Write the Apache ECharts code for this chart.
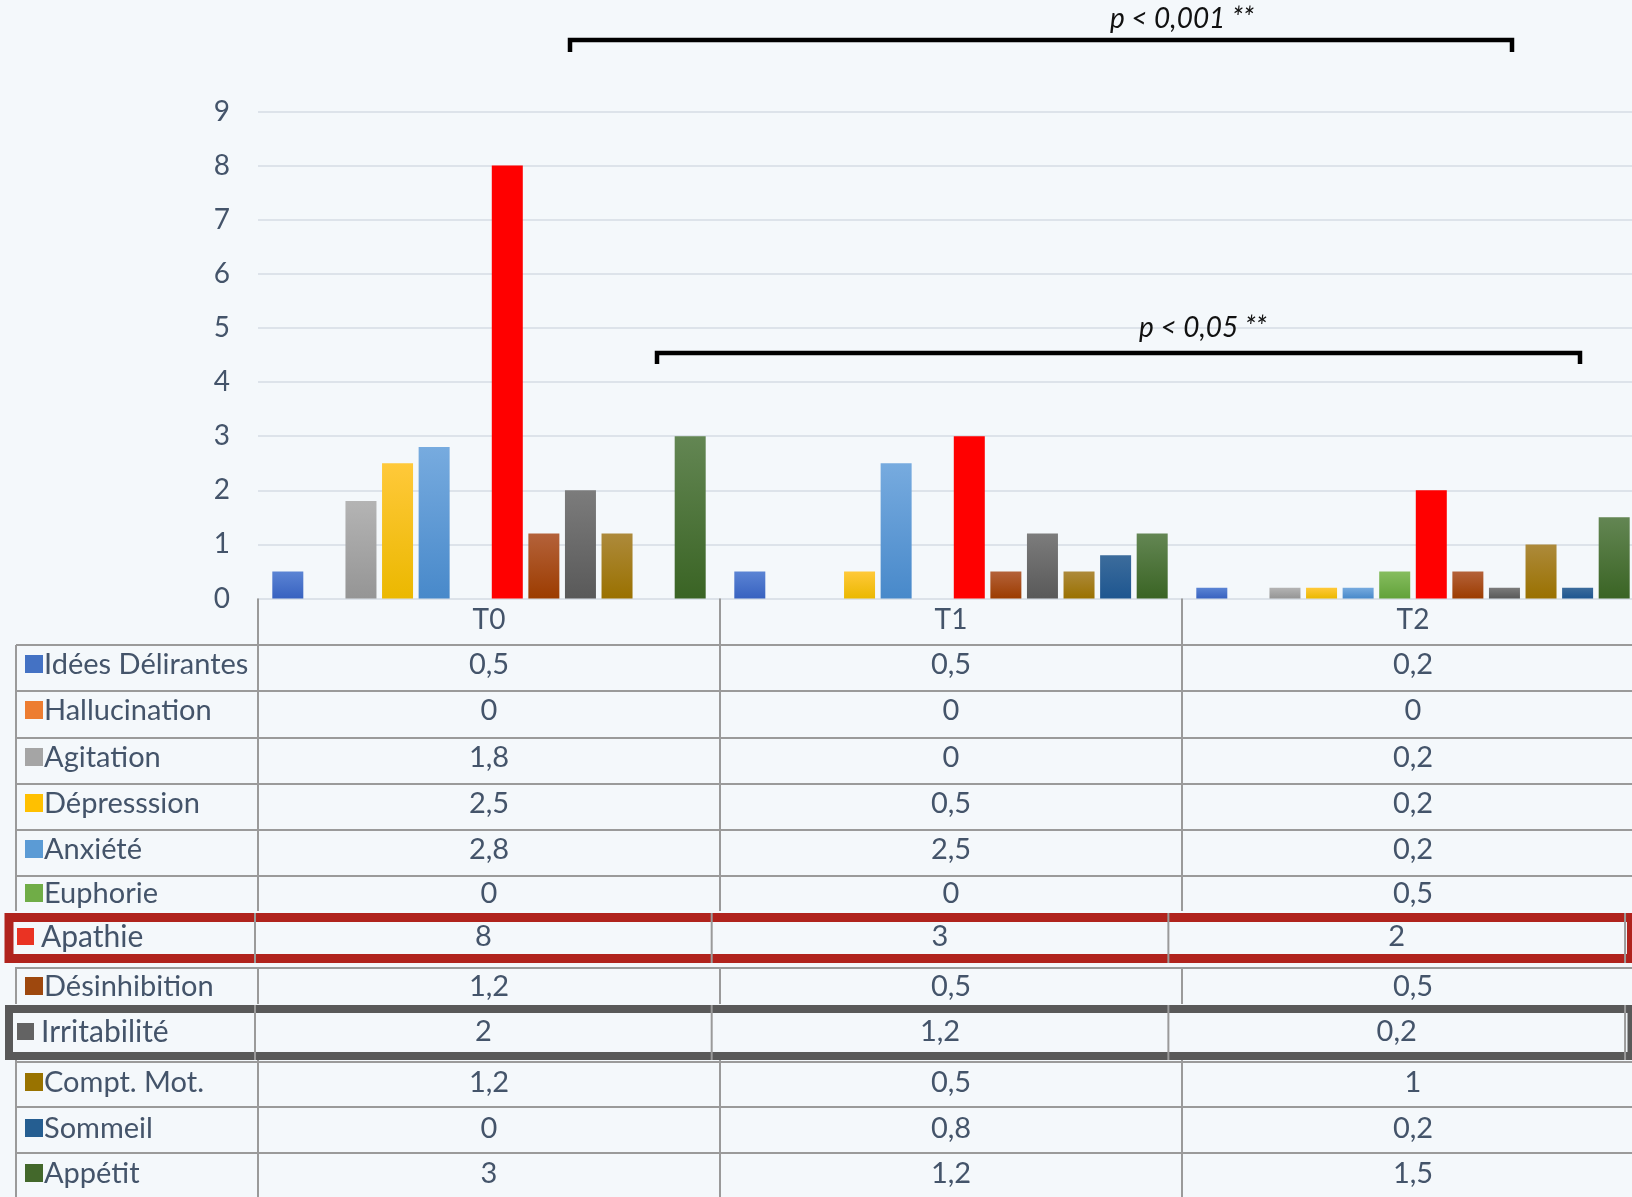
<!DOCTYPE html>
<html>
<head>
<meta charset="utf-8">
<script src="https://cdn.jsdelivr.net/npm/echarts@6/dist/echarts.min.js"></script>
<style>
html, body { margin: 0; padding: 0; background: #f4f8fb; }
#chart { width: 1632px; height: 1197px; }
</style>
</head>
<body>
<div id="chart"></div>
<script>
// data
var periods = ['T0', 'T1', 'T2'];
var symptoms = ['Idées Délirantes', 'Hallucination', 'Agitation', 'Dépresssion', 'Anxiété', 'Euphorie',
	'Apathie', 'Désinhibition', 'Irritabilité', 'Compt. Mot.', 'Sommeil', 'Appétit'];
var valuesT0 = [0.5, 0, 1.8, 2.5, 2.8, 0, 8, 1.2, 2, 1.2, 0, 3];
var valuesT1 = [0.5, 0, 0, 0.5, 2.5, 0, 3, 0.5, 1.2, 0.5, 0.8, 1.2];
var valuesT2 = [0.2, 0, 0.2, 0.2, 0.2, 0.5, 2, 0.5, 0.2, 1, 0.2, 1.5];
var pLabels = ['p < 0,001 **', 'p < 0,05 **'];

// styles
var barColors = [
	['#5b84d4', '#3862c0'], ['#f28f4f', '#ea7425'], ['#b4b4b4', '#959595'], ['#ffc93a', '#ebb800'],
	['#77abdf', '#4889ca'], ['#86bd5f', '#62a23a'], ['#ff0000', '#ff0000'], ['#b4623a', '#9c3c00'],
	['#7c7c7c', '#595959'], ['#ad8a3b', '#9a7100'], ['#3c6c9c', '#1e5690'], ['#638653', '#3a6424']
];
var keyColors = ['#4472c4', '#ed7d31', '#a5a5a5', '#ffc000', '#5b9bd5', '#70ad47', '#ea3323', '#9e480e', '#636363', '#997300', '#255e91', '#43682b'];
var font = 'Lato';
var textColor = '#44546a';
var lineColor = '#9a9a9a';

// table layout
var rowY = [665, 711, 758, 804, 850, 894, 937, 987, 1032, 1083, 1129, 1174];
var rowLines = [645, 691, 738, 784, 830, 876, 968, 1062, 1107, 1153];
var boxes = {
	'Apathie': { top: 917.5, bottom: 958.5, width: 9, color: '#b0231d', fillTop: 911, fillBottom: 967 },
	'Irritabilité': { top: 1009, bottom: 1056, width: 8, color: '#595959', fillTop: 1004, fillBottom: 1060 }
};

function fmt(v) {
	return String(v).replace('.', ',');
}

var chart = echarts.init(document.getElementById('chart'));

var series = symptoms.map(function (name, i) {
	return {
		name: name,
		type: 'bar',
		barWidth: 31,
		barGap: '18%',
		data: [valuesT0[i], valuesT1[i], valuesT2[i]],
		itemStyle: {
			color: {
				type: 'linear', x: 0, y: 0, x2: 0, y2: 1,
				colorStops: [{ offset: 0, color: barColors[i][0] }, { offset: 1, color: barColors[i][1] }]
			}
		}
	};
});

var option = {
	backgroundColor: '#f4f8fb',
	animation: false,
	grid: {
		left: 258,
		width: 1386,
		top: 111.5,
		height: 487,
		outerBoundsMode: 'none'
	},
	xAxis: [{
		type: 'category',
		data: periods,
		axisLine: { lineStyle: { color: '#dce2e9', width: 2 } },
		axisTick: {
			show: true,
			interval: 0,
			length: 600,
			lineStyle: { color: lineColor, width: 2 }
		},
		axisLabel: {
			color: textColor,
			fontFamily: font,
			fontSize: 28,
			lineHeight: 28,
			margin: 7
		}
	}],
	yAxis: [{
		type: 'value',
		min: 0,
		max: 9,
		interval: 1,
		axisLine: { show: false },
		axisTick: { show: false },
		axisLabel: {
			color: textColor,
			fontFamily: font,
			fontSize: 28,
			margin: 28
		},
		splitLine: { lineStyle: { color: '#dde3ea', width: 2 } }
	}],
	series: series
};
chart.setOption(option);

// data table under the axis
var c0 = chart.convertToPixel({ xAxisIndex: 0 }, 0);
var c1 = chart.convertToPixel({ xAxisIndex: 0 }, 1);
var catW = c1 - c0;
var tableLeft = c0 - catW / 2;
var centers = periods.map(function (p, i) { return c0 + i * catW; });
// the two highlighted rows are slightly shifted copies
function pasteX(x) {
	return tableLeft - 3 + (x - tableLeft) * 0.9885;
}

var els = [];
rowLines.forEach(function (y) {
	els.push({ type: 'line', z: 100, shape: { x1: 16, y1: y, x2: 1632, y2: y }, style: { stroke: lineColor, lineWidth: 2 } });
});
els.push({ type: 'line', z: 100, shape: { x1: 16, y1: 645, x2: 16, y2: 1197 }, style: { stroke: lineColor, lineWidth: 2 } });

var columns = [valuesT0, valuesT1, valuesT2];
symptoms.forEach(function (name, r) {
	var y = rowY[r];
	var box = boxes[name];
	if (box) {
		els.push({ type: 'rect', z: 101, shape: { x: 0, y: box.fillTop, width: 1632, height: box.fillBottom - box.fillTop }, style: { fill: '#f4f8fb' } });
		for (var k = 0; k <= periods.length; k++) {
			var lx = pasteX(tableLeft + k * catW);
			els.push({ type: 'line', z: 103, shape: { x1: lx, y1: box.top - box.width / 2, x2: lx, y2: box.bottom + box.width / 2 }, style: { stroke: lineColor, lineWidth: 2 } });
		}
		els.push({ type: 'rect', z: 102, shape: { x: 9, y: box.top, width: 1622.5, height: box.bottom - box.top }, style: { fill: null, stroke: box.color, lineWidth: box.width } });
		els.push({ type: 'rect', z: 104, shape: { x: 17, y: y - 9, width: 17, height: 17 }, style: { fill: keyColors[r] } });
		els.push({ type: 'text', z: 104, x: 41, y: y, style: { text: name, font: '30px ' + font, fill: textColor, verticalAlign: 'middle' } });
		columns.forEach(function (col, c) {
			els.push({ type: 'text', z: 104, x: pasteX(centers[c]), y: y, style: { text: fmt(col[r]), font: '29px ' + font, fill: textColor, align: 'center', verticalAlign: 'middle' } });
		});
	} else {
		els.push({ type: 'rect', z: 104, shape: { x: 25, y: y - 10, width: 18, height: 18 }, style: { fill: keyColors[r] } });
		els.push({ type: 'text', z: 104, x: 44, y: y, style: { text: name, font: '29px ' + font, fill: textColor, verticalAlign: 'middle' } });
		columns.forEach(function (col, c) {
			els.push({ type: 'text', z: 104, x: centers[c], y: y, style: { text: fmt(col[r]), font: '29px ' + font, fill: textColor, align: 'center', verticalAlign: 'middle' } });
		});
	}
});

// significance brackets
els.push({ type: 'polyline', z: 100, shape: { points: [[570, 52], [570, 40], [1512, 40], [1512, 52]] }, style: { stroke: '#000', lineWidth: 4.5, fill: null } });
els.push({ type: 'text', z: 100, x: 1182, y: 19, style: { text: pLabels[0], font: 'italic 28px ' + font, fill: '#111', align: 'center', verticalAlign: 'middle' } });
els.push({ type: 'polyline', z: 100, shape: { points: [[657, 364], [657, 353], [1580, 353], [1580, 364]] }, style: { stroke: '#000', lineWidth: 4.5, fill: null } });
els.push({ type: 'text', z: 100, x: 1203, y: 328, style: { text: pLabels[1], font: 'italic 28px ' + font, fill: '#111', align: 'center', verticalAlign: 'middle' } });

chart.setOption({ graphic: { elements: els } });
</script>
</body>
</html>
